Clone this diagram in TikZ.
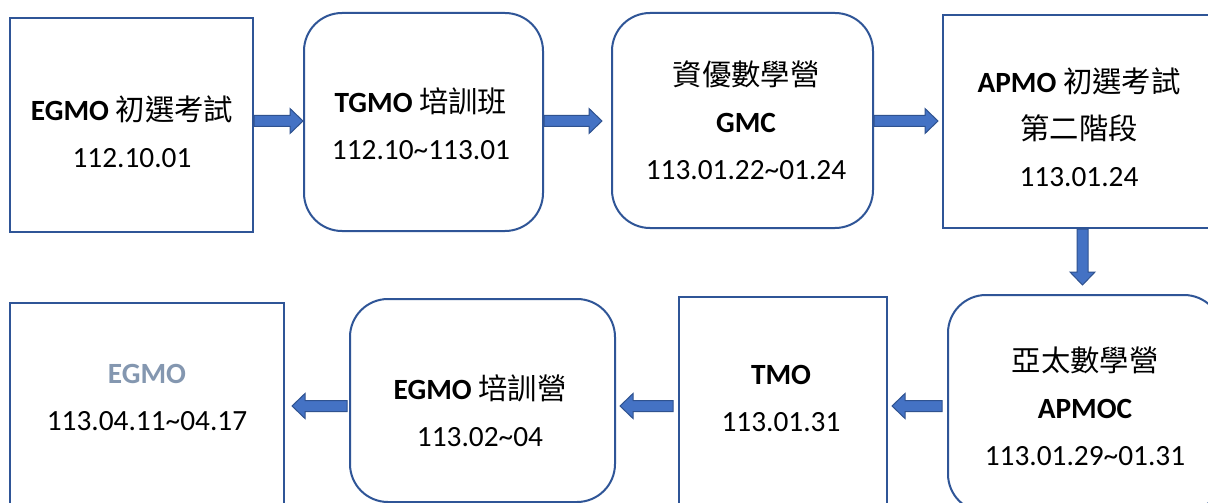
\documentclass[tikz,border=0pt]{standalone}
\usepackage{fontspec}
\setmainfont{Carlito}
\newfontfamily\cjk{Noto Sans CJK TC}
\usetikzlibrary{calc}
\definecolor{boxline}{HTML}{2F5597}
\definecolor{arrfill}{HTML}{4472C4}
\definecolor{arrline}{HTML}{2F528F}
\definecolor{dimtext}{HTML}{8497B0}
\newcommand\blockarr[2]{%
  \path #1 coordinate (ba-s) #2 coordinate (ba-e);
  \path ($(ba-e)!9.75pt!(ba-s)$) coordinate (ba-h);
  \filldraw[barr] ($(ba-s)!4.125pt!-90:(ba-e)$) -- ($(ba-h)!4.125pt!90:(ba-s)$)
    -- ($(ba-h)!9.375pt!90:(ba-s)$) -- (ba-e) -- ($(ba-h)!9.375pt!-90:(ba-s)$)
    -- ($(ba-h)!4.125pt!-90:(ba-s)$) -- ($(ba-s)!4.125pt!90:(ba-e)$) -- cycle;}
\begin{document}
\begin{tikzpicture}[x=0.75pt,y=-0.75pt,
  sqbox/.style={draw=boxline,line width=1.5pt,inner sep=0pt,fill=white},
  rbox/.style={sqbox,rounded corners=28.5pt},
  bsize/.style 2 args={minimum width={#1*0.75pt},minimum height={#2*0.75pt}},
  lbl/.style={align=center,inner sep=0pt,font=\fontsize{22}{35.25}\selectfont},
  barr/.style={fill=arrfill,draw=arrline,line width=0.75pt,line join=miter}]
\useasboundingbox (0,0) rectangle (1208,503);
\clip (0,0) rectangle (1208,503);
\fill[white] (0,0) rectangle (1208,503);
% boxes
\node[sqbox,bsize={243}{214}] (b1) at (131.5,125) {};
\node[rbox,bsize={239}{218}] (b2) at (423.5,122) {};
\node[rbox,bsize={261}{215}] (b3) at (742.5,120.5) {};
\node[sqbox,bsize={272}{213}] (b4) at (1079,121.5) {};
\node[rbox,bsize={274}{217}] (b5) at (1085,403.5) {};
\node[sqbox,bsize={208}{215}] (b6) at (783,404.5) {};
\node[rbox,bsize={265}{203}] (b7) at (482.5,400.5) {};
\node[sqbox,bsize={274}{209}] (b8) at (147,407.5) {};
% labels
\node[lbl] (t1) at (132,131.5) {\textbf{EGMO} {\cjk 初選考試}\\112.10.01};
\node[lbl] (t2) at (421,123.5) {\textbf{TGMO} {\cjk 培訓班}\\112.10\textasciitilde113.01};
\node[lbl] (t3) at (746,120) {{\cjk 資優數學營}\\\textbf{GMC}\\113.01.22\textasciitilde01.24};
\node[lbl] (t4) at (1079,127) {\textbf{APMO} {\cjk 初選考試}\\{\cjk 第二階段}\\113.01.24};
\node[lbl] (t5) at (1085,406.5) {{\cjk 亞太數學營}\\\textbf{APMOC}\\113.01.29\textasciitilde01.31};
\node[lbl] (t6) at (781,398.5) {\textbf{TMO}\\113.01.31};
\node[lbl] (t7) at (480,411) {\textbf{EGMO} {\cjk 培訓營}\\113.02\textasciitilde04};
\node[lbl] (t8) at (147,397.5) {\textcolor{dimtext}{\textbf{EGMO}}\\113.04.11\textasciitilde04.17};
% arrows
\coordinate (ay1) at (0,121);
\coordinate (ay2) at (0,406);
\coordinate (ax) at (1082.5,0);
\blockarr{(b1.east |- ay1)}{(b2.west |- ay1)}
\blockarr{(b2.east |- ay1)}{($(b3.west |- ay1)+(-9,0)$)}
\blockarr{(b3.east |- ay1)}{($(b4.west |- ay1)+(-4,0)$)}
\blockarr{(ax |- b4.south)}{($(ax |- b5.north)+(0,-9)$)}
\blockarr{($(b5.west |- ay2)+(-5,0)$)}{($(b6.east |- ay2)+(4,0)$)}
\blockarr{($(b6.west |- ay2)+(-5,0)$)}{($(b7.east |- ay2)+(4,0)$)}
\blockarr{($(b7.west |- ay2)+(-2,0)$)}{($(b8.east |- ay2)+(7,0)$)}
\end{tikzpicture}
\end{document}
